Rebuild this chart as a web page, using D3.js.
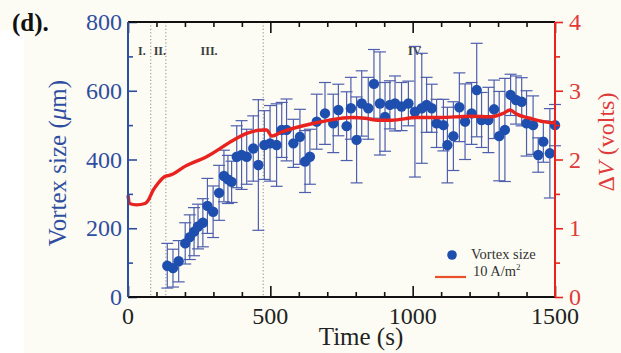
<!DOCTYPE html>
<html>
<head>
<meta charset="utf-8">
<script src="https://cdn.jsdelivr.net/npm/d3@7"></script>
<style>
  html, body { margin: 0; padding: 0; background: #fcfcf4; }
  svg { display: block; }
  text { font-family: "Liberation Serif", "Times New Roman", serif; }
</style>
</head>
<body>
<svg id="chart" width="621" height="353"></svg>
<script>
// Vortex size measurements (µm) with error bars, versus time (s)
const vortexTime = [138, 158, 178, 201, 217, 232, 246, 263, 279, 299, 320, 337, 351, 364, 382, 399, 417, 440, 458, 479,
  499, 522, 540, 557, 581, 604, 622, 639, 663, 692, 721, 739, 768, 783, 803, 821, 844, 864, 885, 903,
  920, 938, 961, 985, 1008, 1032, 1049, 1067, 1084, 1108, 1122, 1143, 1164, 1184, 1207, 1225, 1242, 1266, 1286, 1304,
  1324, 1344, 1363, 1383, 1400, 1423, 1441, 1459, 1482, 1500];
const vortexSize = [91, 84, 104, 156, 174, 190, 205, 216, 265, 248, 303, 352, 342, 335, 408, 413, 408, 432, 384, 442,
  447, 442, 486, 486, 447, 466, 394, 408, 510, 534, 505, 544, 497, 549, 457, 563, 549, 620, 563, 524,
  559, 563, 554, 563, 539, 549, 559, 549, 505, 500, 442, 468, 552, 510, 534, 602, 515, 515, 546, 468,
  486, 588, 573, 568, 505, 500, 413, 452, 418, 500];
const vortexError = [65, 55, 60, 60, 65, 70, 65, 70, 80, 75, 80, 75, 70, 60, 90, 100, 80, 95, 190, 100,
  110, 120, 80, 90, 70, 80, 90, 80, 80, 90, 85, 75, 100, 90, 125, 95, 90, 100, 150, 100,
  70, 80, 70, 65, 190, 160, 80, 70, 70, 75, 110, 100, 100, 110, 90, 136, 80, 95, 85, 130,
  150, 60, 70, 70, 95, 85, 50, 60, 130, 60];

// Voltage difference ΔV (volts) at 10 A/m², versus time (s)
const voltTime = [0, 5, 30, 60, 70, 88, 105, 128, 145, 158, 200, 276, 370, 417, 475, 487, 505, 540, 645, 704,
  786, 833, 878, 926, 1014, 1096, 1201, 1272, 1318, 1342, 1365, 1412, 1459, 1500];
const voltValue = [1.48, 1.36, 1.34, 1.36, 1.40, 1.55, 1.65, 1.75, 1.77, 1.79, 1.90, 2.04, 2.28, 2.38, 2.43, 2.43, 2.34, 2.40, 2.52, 2.57,
  2.61, 2.60, 2.57, 2.57, 2.61, 2.61, 2.63, 2.62, 2.67, 2.72, 2.66, 2.60, 2.55, 2.53];

// Regime boundaries and labels
const boundaryTimes = [80, 133, 475];
const regionText = ["I.", "II.", "III.", "IV."];
const regionTime = [49, 112, 285, 1010];

// Axis ticks
const timeTicks = [0, 500, 1000, 1500];
const sizeTicks = [0, 200, 400, 600, 800];
const voltTicks = [0, 1, 2, 3, 4];

const legendLabels = ["Vortex size", "10 A/m"];

const svg = d3.select("#chart");
const W = 621, H = 353;
const m = { left: 128, right: 555, top: 22, bottom: 297 };

const blue = "#2f4e9f", barBlue = "#4f5fae", dotBlue = "#1f4fae", red = "#e8221e", redText = "#e03a3a";

svg.append("rect").attr("width", W).attr("height", H).attr("fill", "#fcfcf4");
svg.append("rect").attr("x", 0).attr("y", 30).attr("width", 24).attr("height", H - 30).attr("fill", "#ffffff");

const x = d3.scaleLinear().domain([0, 1500]).range([m.left, m.right]);
const yL = d3.scaleLinear().domain([0, 800]).range([m.bottom, m.top]);
const yR = d3.scaleLinear().domain([0, 4]).range([m.bottom, m.top]);

// Regime boundaries (dotted)
svg.append("g").selectAll("line").data(boundaryTimes).join("line")
  .attr("x1", d => x(d)).attr("x2", d => x(d))
  .attr("y1", m.top).attr("y2", m.bottom)
  .attr("stroke", "#8a8a8a").attr("stroke-width", 1).attr("stroke-dasharray", "1.2,2.2");

svg.append("g").selectAll("text").data(regionText).join("text")
  .attr("x", (d, i) => x(regionTime[i])).attr("y", 55)
  .attr("text-anchor", "middle").attr("font-size", 12).attr("font-weight", "bold")
  .attr("fill", "#3c3c3c").text(d => d);

// Error bars
const pts = vortexTime.map((t, i) => ({ t, v: vortexSize[i], e: vortexError[i] }));
const eb = svg.append("g").attr("stroke", barBlue).attr("stroke-width", 1.2).attr("fill", "none");
const cap = 6;
pts.forEach(p => {
  const cx = x(p.t), y1 = yL(p.v + p.e), y2 = yL(Math.max(0, p.v - p.e));
  eb.append("line").attr("x1", cx).attr("x2", cx).attr("y1", y1).attr("y2", y2);
  eb.append("line").attr("x1", cx - cap).attr("x2", cx + cap).attr("y1", y1).attr("y2", y1);
  eb.append("line").attr("x1", cx - cap).attr("x2", cx + cap).attr("y1", y2).attr("y2", y2);
});

// Points
svg.append("g").selectAll("circle").data(pts).join("circle")
  .attr("cx", d => x(d.t)).attr("cy", d => yL(d.v)).attr("r", 5.2)
  .attr("fill", dotBlue);

// Voltage line
const volt = voltTime.map((t, i) => ({ t, v: voltValue[i] }));
svg.append("path").datum(volt)
  .attr("d", d3.line().x(d => x(d.t)).y(d => yR(d.v)).curve(d3.curveMonotoneX))
  .attr("fill", "none").attr("stroke", red).attr("stroke-width", 3.4).attr("stroke-linejoin", "round");

// Axes
function styleAxis(g, color, width) {
  g.select(".domain").remove();
  g.selectAll("line").attr("stroke", color).attr("stroke-width", width);
  g.selectAll("text").remove();
}
const minorT = d3.range(0, 1501, 100);
// bottom axis ticks (inside)
const gb = svg.append("g").attr("transform", `translate(0,${m.bottom})`)
  .call(d3.axisBottom(x).tickValues(minorT).tickSize(-5));
styleAxis(gb, "#111", 1.6);
gb.selectAll(".tick").filter(d => d % 500 === 0).select("line").attr("y2", -11);
// top axis ticks (inside)
const gt = svg.append("g").attr("transform", `translate(0,${m.top})`)
  .call(d3.axisTop(x).tickValues(minorT).tickSize(-5));
styleAxis(gt, "#111", 1.6);
gt.selectAll(".tick").filter(d => d % 500 === 0).select("line").attr("y2", 11);

// left axis (inside)
const gl = svg.append("g").attr("transform", `translate(${m.left},0)`)
  .call(d3.axisLeft(yL).tickValues(d3.range(0, 801, 100)).tickSize(-5));
styleAxis(gl, blue, 1.6);
gl.selectAll(".tick").filter(d => d % 200 === 0).select("line").attr("x2", 9);

// right axis (outside)
const gr = svg.append("g").attr("transform", `translate(${m.right},0)`)
  .call(d3.axisRight(yR).tickValues(d3.range(0, 4.01, 0.5)).tickSize(5));
styleAxis(gr, red, 1.6);
gr.selectAll(".tick").filter(d => Number.isInteger(d)).select("line").attr("x2", 8);

// axis lines
svg.append("line").attr("x1", m.left).attr("x2", m.right).attr("y1", m.top).attr("y2", m.top).attr("stroke", "#111").attr("stroke-width", 2);
svg.append("line").attr("x1", m.left).attr("x2", m.right).attr("y1", m.bottom).attr("y2", m.bottom).attr("stroke", "#111").attr("stroke-width", 2);
svg.append("line").attr("x1", m.left).attr("x2", m.left).attr("y1", m.top).attr("y2", m.bottom).attr("stroke", blue).attr("stroke-width", 2);
svg.append("line").attr("x1", m.right).attr("x2", m.right).attr("y1", m.top).attr("y2", m.bottom).attr("stroke", red).attr("stroke-width", 2);

// tick labels
svg.append("g").selectAll("text").data(timeTicks).join("text")
  .attr("x", d => x(d)).attr("y", 324).attr("text-anchor", "middle")
  .attr("font-size", 24).attr("fill", "#222").text(d => d);
svg.append("g").selectAll("text").data(sizeTicks).join("text")
  .attr("x", 122).attr("y", d => yL(d) + 8).attr("text-anchor", "end")
  .attr("font-size", 24).attr("fill", blue).text(d => d);
svg.append("g").selectAll("text").data(voltTicks).join("text")
  .attr("x", 569).attr("y", d => yR(d) + 8).attr("text-anchor", "start")
  .attr("font-size", 24).attr("fill", redText).text(d => d);

// axis titles
svg.append("text").attr("x", 361).attr("y", 345).attr("text-anchor", "middle")
  .attr("font-size", 25).attr("fill", "#222").text("Time (s)");

const lt = svg.append("text").attr("transform", "translate(66,163) rotate(-90)")
  .attr("text-anchor", "middle").attr("font-size", 25).attr("fill", blue);
lt.append("tspan").text("Vortex size (");
lt.append("tspan").attr("font-style", "italic").text("μ");
lt.append("tspan").text("m)");

const rt = svg.append("text").attr("transform", "translate(614,142) rotate(-90)")
  .attr("text-anchor", "middle").attr("font-size", 24).attr("fill", redText);
rt.append("tspan").text("Δ");
rt.append("tspan").attr("font-style", "italic").text("V");
rt.append("tspan").text(" (volts)");

// panel tag
svg.append("text").attr("x", 12).attr("y", 31).attr("font-size", 25).attr("font-weight", "bold")
  .attr("fill", "#111").text("(d).");

// legend
svg.append("circle").attr("cx", 452).attr("cy", 255).attr("r", 4.8).attr("fill", dotBlue);
svg.append("text").attr("x", 471).attr("y", 259).attr("font-size", 14.5).attr("fill", "#333").text(legendLabels[0]);
svg.append("line").attr("x1", 435).attr("x2", 466).attr("y1", 277).attr("y2", 277)
  .attr("stroke", "#e8502a").attr("stroke-width", 2.2);
const l2 = svg.append("text").attr("x", 473).attr("y", 276).attr("font-size", 14.5).attr("fill", "#333");
l2.append("tspan").text(legendLabels[1]);
l2.append("tspan").attr("font-size", 9).attr("dy", -6).text("2");
</script>
</body>
</html>
